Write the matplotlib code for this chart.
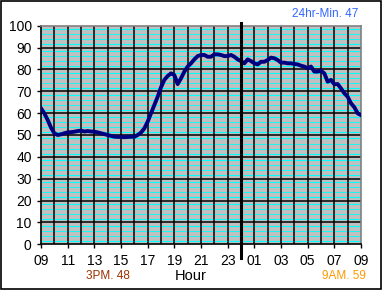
import numpy as np
import matplotlib
matplotlib.use('Agg')
import matplotlib.pyplot as plt
from matplotlib.patches import Rectangle

plt.rcParams['font.family'] = ['Liberation Sans', 'DejaVu Sans']

# readings every 15 minutes, starting 09:00
temps = [62.2, 59.9, 56.9, 53.4, 50.8, 50.0, 50.3, 50.8, 51.2, 51.3,
         51.5, 51.8, 52.0, 51.6, 51.8, 51.6, 51.5, 51.2, 50.8, 50.4,
         50.0, 49.6, 49.2, 49.1, 49.1, 49.0, 49.1, 49.2, 49.2, 50.0,
         51.1, 53.0, 56.1, 59.9, 63.7, 67.5, 71.8, 75.2, 77.0, 78.2,
         77.4, 73.3, 75.9, 79.0, 81.3, 82.8, 84.6, 86.1, 86.6, 86.6,
         85.8, 85.8, 86.9, 86.9, 86.6, 86.1, 86.1, 86.6, 85.8, 84.6,
         83.8, 82.8, 84.6, 83.8, 82.8, 82.3, 83.5, 83.5, 84.3, 85.4,
         85.1, 84.3, 83.1, 83.1, 82.8, 82.8, 82.5, 82.3, 81.7, 81.3,
         80.5, 81.3, 79.0, 79.0, 79.4, 78.2, 74.4, 75.2, 73.2, 73.3,
         71.3, 69.1, 67.5, 64.5, 62.7, 59.9, 59.1]
step = 0.25
hours = np.arange(len(temps)) * step

tick_hours = list(range(0, 25, 2))
tick_labels = ['09', '11', '13', '15', '17', '19', '21', '23',
               '01', '03', '05', '07', '09']
midnight = 15

fig = plt.figure(figsize=(3.85, 2.9), dpi=100)
ax = fig.add_axes([41 / 385, 1 - 244.3 / 290, 320 / 385, 218.6 / 290])
ax.set_facecolor('#c0c0c0')

# cyan minor lines and black major grid
for base in range(0, 100, 10):
    for off, lw in [(1.5, 0.8), (3.8, 0.6), (6.1, 0.6), (8.4, 0.8)]:
        ax.axhline(base + off, color='#00ffff', lw=lw, zorder=1)
for v in range(10, 100, 10):
    ax.axhline(v, color='black', lw=1.1, zorder=2)
for h in range(1, 24):
    ax.axvline(h, color='black', lw=1.1, zorder=2)

ax.plot(hours, temps, color='#000080', lw=2.8, zorder=4, solid_joinstyle='round')
ax.plot([midnight, midnight], [101.1, -6.4], color='black', lw=2.2,
        clip_on=False, zorder=5)

ax.set_xlim(0, 24)
ax.set_ylim(0, 100)
ax.set_yticks(range(0, 101, 10))
ax.set_xticks(tick_hours)
ax.set_xticklabels(tick_labels)
ax.tick_params(axis='both', labelsize=10, length=3.2, width=1, color='black')
ax.tick_params(axis='y', pad=3.5)
ax.tick_params(axis='x', pad=4)

for s in ['top', 'right']:
    ax.spines[s].set_color('#808080')
for s in ['left', 'bottom']:
    ax.spines[s].set_color('black')
for s in ax.spines.values():
    s.set_linewidth(1.2)

fig.text(191 / 385, 1 - 276 / 290, 'Hour', fontsize=10.5, ha='center', va='center')
fig.text(108 / 385, 1 - 276 / 290, '3PM. 48', fontsize=8.5, color='#993300',
         ha='center', va='center')
fig.text(344 / 385, 1 - 276 / 290, '9AM. 59', fontsize=8.5, color='#ff9900',
         ha='center', va='center')
fig.text(358 / 385, 1 - 14 / 290, '24hr-Min. 47', fontsize=8.5, color='#3366ff',
         ha='right', va='center')

fig.patches.append(Rectangle((0.8 / 385, 0.8 / 290), 380 / 385, 288 / 290,
                             transform=fig.transFigure, fill=False,
                             edgecolor='black', lw=1.2))

fig.savefig('out.png', dpi=100)
